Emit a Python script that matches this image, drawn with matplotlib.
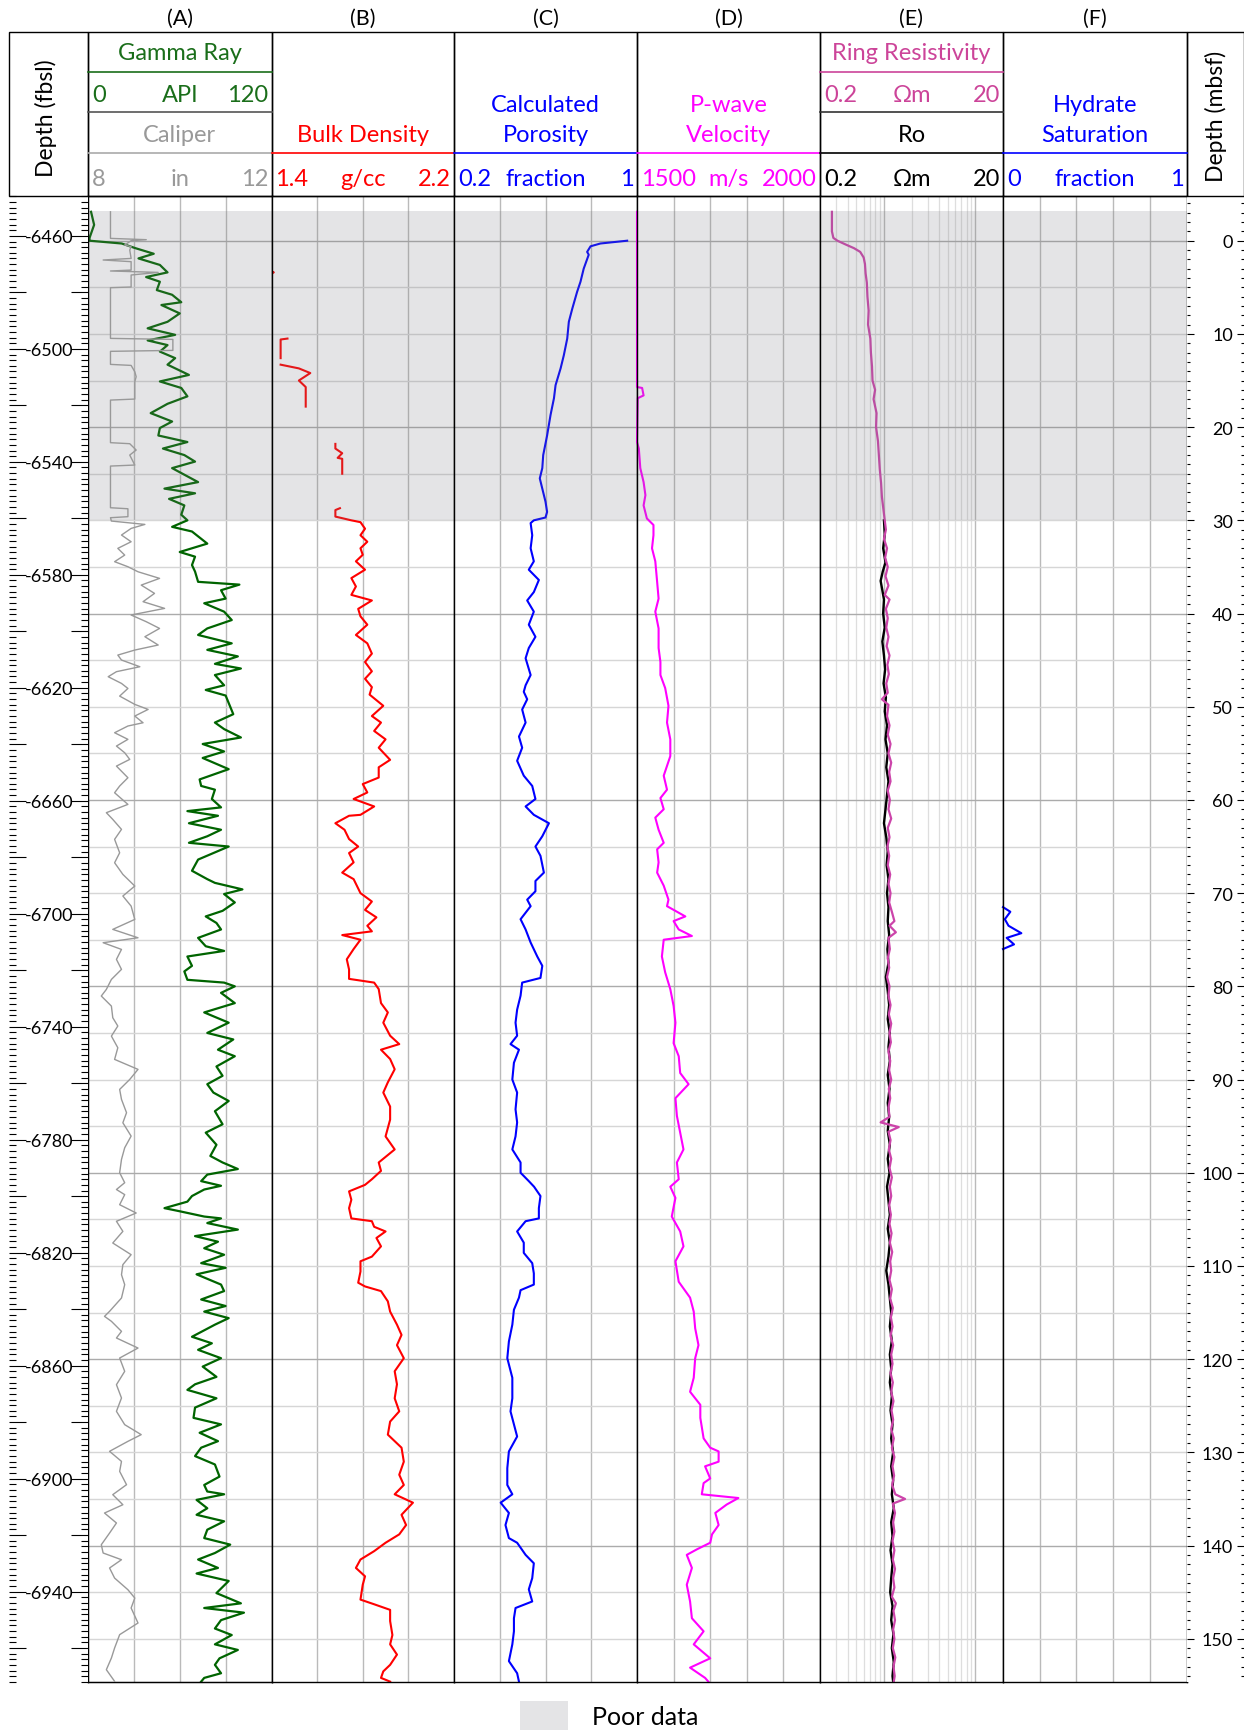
import numpy as np
import matplotlib.pyplot as plt
from matplotlib.patches import Patch, Rectangle
from matplotlib.ticker import MultipleLocator, FuncFormatter, NullLocator

plt.rcParams['font.family'] = ['Lato', 'DejaVu Sans']

# ---- log curves, (depth in m below seafloor, value) ----
gr_log = [(-3.1, 2), (-1.7, 4), (-0.3, 1), (0.0, 1), (0.3, 22), (0.8, 31), (1.4, 43), (1.9, 33), (2.6, 47),
          (3.4, 52), (3.9, 38), (4.4, 47), (5.3, 45), (5.8, 55), (6.6, 61), (6.9, 48), (7.8, 60), (8.7, 52),
          (9.4, 39), (10.1, 57), (10.7, 39), (11.2, 52), (11.9, 47), (12.6, 57), (13.3, 52), (14.4, 66),
          (15.1, 47), (15.8, 61), (16.7, 65), (17.5, 52), (18.5, 41), (19.4, 55), (20.1, 47), (20.9, 46),
          (21.6, 65), (22.3, 49), (23.0, 63), (23.7, 70), (24.4, 55), (25.9, 72), (26.6, 50), (27.1, 70),
          (27.7, 53), (28.4, 63), (29.4, 61), (30.0, 65), (30.7, 55), (31.2, 68), (32.5, 78), (33.4, 60),
          (33.9, 70), (34.8, 68), (35.5, 70), (36.6, 72), (36.9, 99), (37.5, 87), (38.4, 90), (38.9, 76),
          (39.8, 89), (40.7, 94), (41.6, 78), (42.3, 72), (43.2, 94), (43.9, 78), (44.6, 98), (45.4, 83),
          (45.9, 100), (46.6, 83), (47.7, 89), (48.2, 77), (48.8, 90), (49.6, 92), (50.8, 95), (51.7, 83),
          (52.4, 89), (53.3, 100), (54.0, 75), (54.8, 89), (55.5, 75), (56.7, 92), (57.8, 73), (58.5, 74),
          (58.9, 83), (59.9, 81), (60.8, 87), (61.2, 65), (61.7, 85), (62.5, 66), (63.2, 87), (63.9, 78),
          (64.6, 66), (65.0, 92), (65.7, 82), (66.4, 72), (67.6, 68), (68.5, 78), (68.9, 83), (69.6, 101),
          (70.1, 89), (71.0, 96), (71.9, 88), (72.5, 77), (73.2, 84), (73.9, 87), (74.8, 72), (75.7, 77),
          (76.2, 89), (76.8, 65), (77.8, 68), (78.4, 63), (79.3, 65), (79.6, 89), (80.0, 96), (80.7, 87),
          (81.8, 96), (82.8, 76), (83.9, 92), (85.0, 78), (85.7, 95), (86.8, 85), (87.5, 96), (88.6, 84),
          (89.6, 88), (90.5, 78), (91.4, 82), (92.3, 92), (93.4, 83), (94.8, 88), (95.7, 77), (97.0, 84),
          (98.2, 80), (98.9, 88), (99.6, 98), (100.2, 78), (100.9, 74), (101.4, 87), (101.8, 76), (102.5, 68),
          (103.1, 65), (103.8, 50), (104.1, 59), (104.7, 76), (104.9, 87), (105.4, 78), (106.1, 98),
          (106.8, 70), (107.4, 85), (108.1, 76), (108.8, 89), (109.7, 74), (110.2, 90), (110.9, 71),
          (112.0, 87), (112.7, 89), (113.6, 74), (114.3, 90), (114.9, 76), (115.6, 92), (116.3, 83),
          (117.6, 68), (118.3, 81), (119.0, 72), (119.9, 87), (120.8, 75), (121.9, 84), (122.7, 70),
          (123.3, 65), (124.2, 84), (125.2, 70), (126.3, 69), (127.0, 87), (127.9, 73), (128.8, 85),
          (129.5, 74), (130.4, 70), (131.3, 83), (132.6, 86), (133.5, 76), (134.2, 78), (134.5, 89),
          (135.1, 71), (136.0, 78), (136.7, 71), (137.4, 89), (138.3, 78), (139.2, 76), (139.9, 93),
          (140.8, 83), (141.5, 72), (142.4, 85), (143.0, 71), (143.8, 92), (145.1, 84), (146.2, 100),
          (146.7, 76), (147.2, 102), (148.0, 87), (148.9, 83), (149.6, 94), (150.6, 83), (151.2, 98),
          (152.1, 86), (152.8, 83), (153.7, 87), (154.2, 76), (154.6, 74)]

cal_log = [(-3.1, 8.49), (-0.25, 8.49), (-0.11, 9.27), (0.0, 8.94), (0.46, 8.80), (0.64, 8.94), (1.0, 8.91),
           (1.9, 8.94), (2.07, 8.33), (2.25, 8.94), (3.15, 8.94), (3.25, 8.49), (3.4, 9.53), (3.68, 8.94),
           (4.97, 8.94), (5.04, 8.49), (10.48, 8.49), (10.59, 9.85), (11.77, 9.85), (11.87, 8.49),
           (13.27, 8.49), (13.38, 8.94), (14.06, 9.02), (14.59, 9.05), (15.13, 9.02), (16.99, 9.02),
           (17.1, 8.49), (21.67, 8.49), (21.78, 8.91), (22.46, 9.05), (23.0, 8.91), (24.07, 9.02),
           (24.18, 8.49), (28.65, 8.49), (28.76, 8.87), (29.61, 8.87), (29.72, 8.49), (30.08, 8.51),
           (30.44, 9.24), (30.87, 8.94), (31.58, 8.73), (32.3, 8.94), (33.01, 8.65), (33.73, 8.80),
           (34.44, 8.58), (34.98, 8.87), (35.52, 9.09), (36.23, 9.56), (36.95, 9.16), (37.84, 9.45),
           (38.73, 9.20), (39.45, 9.67), (40.16, 8.94), (40.88, 9.27), (41.6, 9.56), (42.49, 9.24),
           (43.38, 9.53), (43.92, 9.02), (44.46, 8.65), (44.99, 8.73), (45.71, 9.13), (46.24, 8.62),
           (46.78, 8.44), (47.5, 8.73), (48.04, 8.87), (48.86, 8.69), (49.75, 9.02), (50.29, 9.31),
           (51.0, 9.02), (51.72, 9.20), (52.07, 8.87), (52.79, 8.58), (53.5, 8.87), (54.22, 8.62),
           (54.94, 8.80), (55.65, 8.91), (56.37, 8.62), (57.62, 8.87), (58.51, 8.69), (59.23, 8.58),
           (60.48, 8.87), (61.37, 8.40), (62.09, 8.54), (63.16, 8.73), (64.23, 8.58), (65.67, 8.69),
           (66.74, 8.58), (67.99, 8.76), (69.24, 9.02), (70.31, 8.76), (71.39, 8.94), (72.82, 9.02),
           (73.89, 8.54), (74.79, 9.09), (75.32, 8.33), (76.04, 8.73), (77.11, 8.62), (78.18, 8.73),
           (79.26, 8.51), (80.33, 8.40), (81.04, 8.29), (82.12, 8.51), (83.37, 8.54), (84.26, 8.65),
           (85.34, 8.51), (86.59, 8.65), (87.84, 8.58), (88.91, 9.09), (89.99, 8.91), (91.06, 8.69),
           (92.13, 8.73), (93.56, 8.84), (94.64, 8.76), (96.07, 8.94), (97.32, 8.80), (98.57, 8.73),
           (100.0, 8.69), (101.07, 8.80), (101.8, 8.62), (102.35, 8.80), (103.43, 8.69), (104.32, 9.05),
           (105.21, 8.62), (106.29, 8.76), (107.54, 8.54), (108.79, 8.94), (109.86, 8.76), (110.94, 8.73),
           (112.01, 8.80), (113.44, 8.73), (114.87, 8.47), (115.41, 8.36), (115.94, 8.51), (117.02, 8.73),
           (117.73, 8.62), (118.81, 9.09), (119.88, 8.69), (121.31, 8.80), (122.74, 8.62), (124.17, 8.73),
           (125.6, 8.62), (127.03, 8.80), (128.1, 9.16), (128.82, 8.87), (129.89, 8.47), (130.97, 8.73),
           (132.04, 8.69), (133.47, 8.84), (134.54, 8.54), (135.62, 8.76), (136.51, 8.36), (137.58, 8.62),
           (138.66, 8.47), (139.91, 8.29), (140.8, 8.33), (141.52, 8.73), (142.41, 8.47), (143.49, 8.58),
           (144.74, 8.87), (145.63, 9.02), (146.7, 8.94), (148.31, 9.09), (149.56, 8.69), (150.99, 8.58),
           (152.07, 8.51), (153.32, 8.40), (154.57, 8.58)]

nan = float('nan')
rhob_log = [(-0.4, 1.401), (3.3, 1.401), (3.4, 1.41), (3.5, 1.401), (5.7, 1.401), (nan, nan),
            (10.5, 1.47), (10.6, 1.44), (12.6, 1.44), (nan, nan),
            (13.3, 1.44), (13.7, 1.52), (14.2, 1.57), (15.0, 1.52), (15.7, 1.55), (17.8, 1.55), (nan, nan),
            (21.8, 1.68), (22.3, 1.68), (22.8, 1.71), (23.3, 1.69), (23.4, 1.71), (25.0, 1.71), (nan, nan),
            (28.7, 1.70), (28.9, 1.68), (29.6, 1.68), (30.0, 1.75), (30.2, 1.79), (30.9, 1.81), (31.6, 1.79),
            (32.3, 1.82), (33.0, 1.79), (33.7, 1.80), (34.4, 1.77), (35.3, 1.81), (36.2, 1.75), (37.1, 1.77),
            (38.0, 1.75), (38.6, 1.84), (39.5, 1.78), (40.3, 1.79), (41.2, 1.82), (42.3, 1.77), (43.2, 1.82),
            (44.3, 1.84), (45.2, 1.81), (46.2, 1.84), (47.0, 1.81), (47.9, 1.84), (48.7, 1.83), (49.9, 1.89),
            (51.0, 1.84), (51.7, 1.88), (52.6, 1.85), (53.5, 1.90), (54.4, 1.87), (55.7, 1.92), (56.5, 1.87),
            (57.6, 1.87), (58.3, 1.80), (59.2, 1.82), (59.9, 1.76), (60.7, 1.85), (61.6, 1.79), (61.7, 1.74),
            (62.5, 1.68), (63.2, 1.72), (64.2, 1.74), (65.0, 1.78), (65.7, 1.74), (66.7, 1.76), (67.8, 1.71),
            (68.5, 1.76), (70.0, 1.79), (70.9, 1.84), (71.8, 1.81), (72.6, 1.86), (73.5, 1.82), (74.1, 1.84),
            (74.5, 1.71), (75.0, 1.79), (76.0, 1.76), (77.1, 1.73), (78.2, 1.74), (79.2, 1.74), (79.6, 1.85),
            (80.3, 1.87), (81.8, 1.88), (82.8, 1.91), (83.9, 1.89), (85.3, 1.92), (86.2, 1.96), (86.8, 1.88),
            (87.8, 1.92), (88.9, 1.94), (90.3, 1.91), (91.4, 1.89), (92.9, 1.92), (94.3, 1.92), (96.1, 1.90),
            (97.5, 1.94), (98.9, 1.87), (99.8, 1.88), (100.7, 1.84), (101.3, 1.81), (102.0, 1.74),
            (102.9, 1.75), (103.8, 1.74), (104.9, 1.75), (105.2, 1.84), (105.8, 1.85), (106.3, 1.90),
            (107.0, 1.86), (107.9, 1.88), (109.0, 1.84), (109.5, 1.79), (110.6, 1.79), (111.8, 1.78),
            (112.2, 1.81), (112.7, 1.88), (113.8, 1.91), (114.9, 1.92), (116.3, 1.95), (117.4, 1.97),
            (118.5, 1.95), (119.9, 1.98), (121.3, 1.94), (122.7, 1.95), (124.2, 1.94), (125.6, 1.96),
            (126.7, 1.92), (128.1, 1.91), (129.5, 1.97), (131.0, 1.98), (132.4, 1.96), (133.5, 1.98),
            (134.5, 1.94), (135.4, 2.02), (136.7, 1.97), (137.8, 1.99), (138.8, 1.96), (139.7, 1.90),
            (140.6, 1.85), (141.5, 1.79), (142.4, 1.77), (143.3, 1.81), (144.2, 1.80), (145.8, 1.79),
            (146.3, 1.85), (146.9, 1.92), (148.1, 1.92), (149.6, 1.93), (150.6, 1.92), (151.7, 1.95),
            (152.8, 1.92), (153.5, 1.89), (154.2, 1.88), (154.6, 1.92)]

phi_log = [(0.0, 0.957), (0.3, 0.84), (0.6, 0.797), (1.2, 0.782), (1.5, 0.789), (3.0, 0.767), (4.4, 0.753),
           (5.5, 0.738), (7.3, 0.717), (8.7, 0.702), (10.5, 0.695), (12.3, 0.68), (13.7, 0.666), (15.5, 0.644),
           (16.9, 0.637), (18.7, 0.622), (20.9, 0.607), (23.0, 0.59), (24.4, 0.586), (25.5, 0.575),
           (26.6, 0.586), (28.0, 0.60), (29.1, 0.607), (29.7, 0.60), (30.0, 0.549), (30.3, 0.535),
           (31.6, 0.542), (33.0, 0.535), (34.4, 0.549), (35.3, 0.527), (36.4, 0.571), (37.7, 0.549),
           (38.6, 0.52), (39.8, 0.549), (41.2, 0.527), (42.5, 0.556), (43.7, 0.527), (44.8, 0.513),
           (46.6, 0.535), (47.7, 0.513), (48.4, 0.505), (49.2, 0.52), (50.3, 0.498), (51.7, 0.513),
           (53.2, 0.484), (54.4, 0.498), (55.8, 0.476), (57.4, 0.505), (58.5, 0.542), (59.9, 0.556),
           (60.7, 0.513), (61.6, 0.549), (62.5, 0.615), (63.9, 0.586), (65.0, 0.556), (66.0, 0.578),
           (67.8, 0.593), (68.7, 0.556), (69.8, 0.556), (70.7, 0.52), (71.4, 0.535), (72.8, 0.491),
           (73.9, 0.513), (75.3, 0.535), (76.8, 0.564), (77.8, 0.586), (79.1, 0.578), (79.6, 0.498),
           (81.0, 0.491), (82.5, 0.476), (83.9, 0.469), (85.3, 0.476), (86.2, 0.447), (86.8, 0.484),
           (88.2, 0.462), (90.0, 0.455), (91.4, 0.476), (93.2, 0.469), (94.6, 0.476), (96.1, 0.469),
           (97.5, 0.455), (98.9, 0.491), (100.0, 0.491), (100.9, 0.527), (101.5, 0.55), (102.5, 0.578),
           (103.8, 0.571), (104.9, 0.571), (105.2, 0.513), (106.3, 0.476), (107.5, 0.505), (108.6, 0.505),
           (109.7, 0.542), (110.8, 0.549), (112.0, 0.549), (112.6, 0.491), (113.4, 0.484), (114.7, 0.462),
           (116.3, 0.455), (118.1, 0.44), (119.9, 0.433), (122.0, 0.455), (124.2, 0.455), (125.6, 0.447),
           (127.0, 0.462), (128.3, 0.476), (129.9, 0.44), (131.7, 0.433), (133.5, 0.433), (134.5, 0.455),
           (135.4, 0.404), (136.5, 0.44), (137.8, 0.425), (139.2, 0.44), (139.7, 0.476), (141.0, 0.513),
           (141.9, 0.549), (143.5, 0.542), (144.7, 0.527), (146.0, 0.542), (146.7, 0.469), (147.8, 0.462),
           (149.2, 0.462), (150.6, 0.455), (152.4, 0.44), (153.7, 0.476), (154.6, 0.484)]

vp_log = [(-3.1, 1500), (15.7, 1500), (15.8, 1514), (16.6, 1518), (16.9, 1502), (21.6, 1500), (22.3, 1505),
          (24.4, 1509), (25.9, 1518), (27.3, 1523), (28.4, 1518), (29.8, 1527), (30.5, 1545), (31.6, 1545),
          (33.0, 1541), (34.4, 1550), (36.6, 1555), (38.4, 1559), (39.8, 1550), (41.6, 1559), (43.7, 1559),
          (45.2, 1564), (46.6, 1564), (48.0, 1577), (49.9, 1586), (51.7, 1582), (53.5, 1591), (55.3, 1591),
          (57.4, 1573), (58.9, 1582), (59.8, 1564), (61.0, 1573), (61.9, 1550), (63.2, 1559), (64.6, 1573),
          (65.3, 1555), (66.7, 1559), (67.8, 1555), (69.2, 1573), (70.7, 1586), (71.4, 1582), (72.5, 1632),
          (73.0, 1600), (73.9, 1614), (74.6, 1650), (75.0, 1573), (76.8, 1568), (78.5, 1577), (80.3, 1591),
          (82.1, 1600), (83.9, 1605), (86.1, 1600), (87.5, 1614), (89.3, 1618), (90.5, 1641), (92.0, 1605),
          (93.9, 1609), (95.7, 1618), (97.5, 1627), (98.9, 1609), (100.7, 1614), (101.5, 1591), (102.7, 1605),
          (104.7, 1595), (106.3, 1618), (107.9, 1627), (109.5, 1605), (111.7, 1614), (113.4, 1645),
          (114.9, 1655), (116.7, 1659), (118.5, 1668), (119.9, 1659), (122.0, 1655), (123.5, 1645),
          (124.9, 1673), (126.3, 1673), (128.5, 1682), (129.5, 1700), (129.9, 1723), (131.0, 1723),
          (131.5, 1686), (132.8, 1700), (133.3, 1682), (134.5, 1677), (134.9, 1777), (135.6, 1745),
          (136.5, 1714), (137.8, 1723), (138.8, 1705), (139.7, 1700), (140.4, 1664), (141.0, 1636),
          (142.4, 1650), (144.2, 1636), (146.0, 1645), (147.8, 1650), (149.2, 1682), (150.6, 1655),
          (152.1, 1700), (153.1, 1645), (154.2, 1686), (154.6, 1695)]

ring_log = [(-3.1, 0.27), (-1.0, 0.27), (-0.3, 0.28), (0.0, 0.31), (0.4, 0.38), (0.8, 0.47), (1.2, 0.55),
            (1.8, 0.60), (2.5, 0.62), (3.5, 0.63), (4.5, 0.65), (6.0, 0.66), (7.5, 0.68), (9.0, 0.67),
            (10.5, 0.71), (12.0, 0.72), (13.5, 0.74), (15.0, 0.75), (16.0, 0.80), (17.0, 0.77), (18.5, 0.83),
            (20.0, 0.82), (21.5, 0.86), (23.0, 0.88), (24.5, 0.90), (26.0, 0.93), (27.5, 0.95), (29.0, 0.99),
            (30.0, 1.02), (31.0, 1.05), (32.0, 1.00), (33.0, 1.08), (34.0, 1.03), (35.0, 1.10), (36.0, 1.04),
            (37.0, 1.12), (38.0, 1.02), (38.5, 1.15), (39.5, 1.05), (40.5, 1.10), (41.5, 1.06), (42.5, 1.12),
            (43.5, 1.07), (44.5, 1.15), (45.5, 1.09), (46.5, 1.13), (47.5, 1.06), (48.5, 1.10), (49.2, 0.95),
            (49.8, 1.12), (51.0, 1.08), (52.0, 1.15), (53.0, 1.10), (54.0, 1.18), (55.0, 1.12), (56.0, 1.20),
            (57.0, 1.14), (58.0, 1.18), (59.0, 1.10), (60.0, 1.16), (61.0, 1.12), (62.0, 1.20), (63.0, 1.10),
            (64.0, 1.15), (65.0, 1.09), (66.0, 1.14), (67.0, 1.10), (68.0, 1.17), (69.0, 1.12), (70.0, 1.18),
            (71.0, 1.14), (72.0, 1.22), (73.0, 1.30), (73.5, 1.15), (74.2, 1.35), (74.8, 1.12), (76.0, 1.16),
            (77.0, 1.10), (78.0, 1.14), (79.0, 1.08), (80.0, 1.15), (81.0, 1.12), (82.0, 1.18), (83.0, 1.13),
            (84.0, 1.20), (85.0, 1.15), (86.0, 1.19), (87.0, 1.12), (88.0, 1.17), (89.0, 1.14), (90.0, 1.20),
            (91.0, 1.13), (92.0, 1.17), (93.0, 1.12), (94.0, 1.15), (94.6, 0.92), (95.1, 1.45), (95.6, 1.12),
            (96.5, 1.18), (97.5, 1.13), (98.5, 1.20), (99.5, 1.15), (100.5, 1.22), (101.5, 1.16), (102.5, 1.20),
            (103.5, 1.14), (104.5, 1.19), (105.5, 1.15), (106.5, 1.21), (107.5, 1.16), (108.5, 1.23),
            (109.5, 1.17), (110.5, 1.20), (111.5, 1.15), (112.5, 1.22), (113.5, 1.17), (114.5, 1.25),
            (115.5, 1.19), (116.5, 1.24), (117.5, 1.18), (118.5, 1.26), (119.5, 1.20), (120.5, 1.24),
            (121.5, 1.18), (122.5, 1.25), (123.5, 1.20), (124.5, 1.27), (125.5, 1.21), (126.5, 1.26),
            (127.5, 1.20), (128.5, 1.28), (129.5, 1.22), (130.5, 1.30), (131.5, 1.24), (132.5, 1.29),
            (133.5, 1.23), (134.5, 1.33), (135.0, 1.70), (135.5, 1.25), (136.5, 1.32), (137.5, 1.26),
            (138.5, 1.30), (139.5, 1.24), (140.5, 1.30), (141.5, 1.25), (142.5, 1.32), (143.5, 1.26),
            (144.5, 1.30), (145.5, 1.22), (146.2, 1.35), (147.0, 1.27), (148.0, 1.32), (149.0, 1.26),
            (150.0, 1.30), (151.0, 1.25), (152.0, 1.33), (153.0, 1.27), (154.0, 1.31), (154.6, 1.28)]

ro_log = [(30.0, 1.00), (31.5, 1.02), (33.0, 0.98), (34.5, 1.04), (35.5, 0.97), (36.5, 0.92), (37.5, 0.96),
          (38.5, 1.00), (40.0, 0.98), (41.5, 1.02), (43.0, 0.96), (44.5, 1.00), (46.0, 1.03), (47.5, 0.99),
          (49.0, 1.05), (50.5, 1.02), (52.0, 1.08), (53.5, 1.04), (55.0, 1.10), (56.5, 1.06), (58.0, 1.12),
          (59.5, 1.08), (61.0, 1.04), (62.5, 1.00), (64.0, 1.06), (65.5, 1.10), (67.0, 1.07), (68.5, 1.12),
          (70.0, 1.08), (71.5, 1.12), (73.0, 1.10), (74.5, 1.14), (76.0, 1.09), (77.5, 1.12), (79.0, 1.05),
          (80.5, 1.10), (82.0, 1.14), (83.5, 1.10), (85.0, 1.16), (86.5, 1.12), (88.0, 1.16), (89.5, 1.10),
          (91.0, 1.15), (92.5, 1.10), (94.0, 1.14), (95.5, 1.10), (97.0, 1.16), (98.5, 1.10), (100.0, 1.15),
          (101.5, 1.08), (103.0, 1.12), (104.5, 1.16), (106.0, 1.10), (107.5, 1.16), (109.0, 1.12),
          (110.5, 1.06), (112.0, 1.12), (113.5, 1.16), (115.0, 1.20), (116.5, 1.16), (118.0, 1.22),
          (119.5, 1.16), (121.0, 1.20), (122.5, 1.16), (124.0, 1.22), (125.5, 1.18), (127.0, 1.24),
          (128.5, 1.20), (130.0, 1.26), (131.5, 1.20), (133.0, 1.26), (134.5, 1.22), (136.0, 1.28),
          (137.5, 1.20), (139.0, 1.24), (140.5, 1.18), (142.0, 1.24), (143.5, 1.20), (145.0, 1.17),
          (146.5, 1.24), (148.0, 1.20), (149.5, 1.27), (151.0, 1.22), (152.5, 1.28), (154.0, 1.24), (154.6, 1.26)]

sh_log = [(71.5, 0.0), (72.0, 0.04), (72.8, 0.01), (73.5, 0.03), (74.3, 0.10), (74.8, 0.02),
          (75.5, 0.06), (76.0, 0.0)]

poor_data = (-3.2, 30.0)          # m below seafloor
seafloor_ft, ft_per_m = 6461.7, 3.30

gr_depth, gr_api = np.array(gr_log).T
cal_depth, cal_in = np.array(cal_log).T
rhob_depth, rhob = np.array(rhob_log).T
phi_depth, phi = np.array(phi_log).T
vp_depth, vp = np.array(vp_log).T
ring_depth, ring = np.array(ring_log).T
ro_depth, ro = np.array(ro_log).T
sh_depth, sh = np.array(sh_log).T

# ---- layout in pixels ----
W, H = 1244, 1731
TOP, BOT, HTOP = 196.5, 1683, 33
edges = [88, 271.5, 454, 637, 820, 1003, 1186.5]
ylim = (154.64, -4.85)
FS = 17
ROW = [60.5, 102.5, 142.5, 186]   # text baselines of header rows

fig = plt.figure(figsize=(W / 100, H / 100), dpi=100)


def frac(x0, y0, x1, y1):
    return [x0 / W, 1 - y1 / H, (x1 - x0) / W, (y1 - y0) / H]


def make_track(i, xlim, xgrid, log=False, minor_grid=()):
    ax = fig.add_axes(frac(edges[i], TOP, edges[i + 1], BOT))
    if log:
        ax.set_xscale('log')
    ax.set_xlim(*xlim)
    ax.set_ylim(*ylim)
    ax.set_xticks([])
    ax.set_yticks([])
    ax.xaxis.set_minor_locator(NullLocator())
    ax.yaxis.set_minor_locator(NullLocator())
    for xv in minor_grid:
        ax.axvline(xv, color='#dedede', lw=0.9, zorder=1)
    for xv in xgrid:
        ax.axvline(xv, color='#bababa', lw=1.0, zorder=1)
    for m in range(0, 151, 5):
        ax.axhline(m, color='#ababab' if m % 20 == 0 else '#d6d6d6', lw=1.0, zorder=1)
    ax.axhspan(*poor_data, color='#7a7a82', alpha=0.2, lw=0, zorder=6)
    for s in ax.spines.values():
        s.set_linewidth(1.0)
        s.set_zorder(7)
    return ax


# track A: gamma ray + caliper
axA = make_track(0, (0, 120), [30, 60, 90])
axA.plot(gr_api, gr_depth, color='#006400', lw=1.6, zorder=3)
axA2 = axA.twiny()
axA2.set_xlim(8, 12)
axA2.set_xticks([])
axA2.plot(cal_in, cal_depth, color='#999999', lw=1.0, zorder=3)

# track B: bulk density
axB = make_track(1, (1.4, 2.2), [1.6, 1.8, 2.0])
axB.plot(rhob, rhob_depth, color='#ff0000', lw=1.5, zorder=3)

# track C: porosity
axC = make_track(2, (0.2, 1.0), [0.4, 0.6, 0.8])
axC.plot(phi, phi_depth, color='#0000ff', lw=1.5, zorder=3)

# track D: p-wave velocity
axD = make_track(3, (1500, 2000), [1600, 1700, 1800, 1900])
axD.plot(vp, vp_depth, color='#ff00ff', lw=1.5, zorder=3, clip_on=False)

# track E: resistivity (log)
minors = [k * d for d in (0.1, 1) for k in range(2, 10) if 0.2 < k * d < 20]
axE = make_track(4, (0.2, 20), [1, 10], log=True, minor_grid=minors)
axE.plot(ro, ro_depth, color='black', lw=1.7, zorder=3)
axE.plot(ring, ring_depth, color='#cc44aa', lw=1.6, zorder=4)

# track F: hydrate saturation
axF = make_track(5, (0, 1), [0.2, 0.4, 0.6, 0.8])
axF.plot(sh, sh_depth, color='#0000ff', lw=1.5, zorder=3, clip_on=False)

# depth columns
axL = fig.add_axes(frac(9, TOP, 88, BOT))
axL.set_ylim(seafloor_ft + ft_per_m * ylim[0], seafloor_ft + ft_per_m * ylim[1])
axL.set_xticks([])
axL.yaxis.set_major_locator(MultipleLocator(20))
axL.yaxis.set_minor_locator(MultipleLocator(2))
axL.yaxis.set_major_formatter(FuncFormatter(lambda v, p: '-%d' % v if round(v) % 40 == 20 else ''))
axL.tick_params(axis='y', which='both', direction='in', left=True, right=True, labelsize=13, width=0.8)
axL.tick_params(axis='y', which='major', length=12, pad=-46.5)
axL.tick_params(axis='y', which='minor', length=5)
for s in axL.spines.values():
    s.set_visible(False)

axR = fig.add_axes(frac(1186.5, TOP, 1244, BOT))
axR.set_ylim(*ylim)
axR.set_xticks([])
axR.yaxis.set_major_locator(MultipleLocator(10))
axR.yaxis.set_minor_locator(MultipleLocator(1))
axR.tick_params(axis='y', which='both', direction='in', left=True, right=True, labelsize=13, width=0.8)
axR.tick_params(axis='y', which='major', length=5, pad=-33.5)
axR.tick_params(axis='y', which='minor', length=2.4)
for s in axR.spines.values():
    s.set_visible(False)

# header
ov = fig.add_axes([0, 0, 1, 1], zorder=10)
ov.set_xlim(0, W)
ov.set_ylim(H, 0)
ov.axis('off')

cols = [9] + edges + [1243.5]
for x0, x1 in zip(cols[:-1], cols[1:]):
    ov.add_patch(Rectangle((x0, HTOP), x1 - x0, TOP - HTOP, fill=False, ec='black', lw=1.0))

ov.text(46, 118, 'Depth (fbsl)', rotation=90, ha='center', va='center', fontsize=16.5)
ov.text(1216, 116, 'Depth (mbsf)', rotation=90, ha='center', va='center', fontsize=16.5)

letters = ['(A)', '(B)', '(C)', '(D)', '(E)', '(F)']
for i, lab in enumerate(letters):
    ov.text((edges[i] + edges[i + 1]) / 2, 19, lab, ha='center', va='center', fontsize=15.5)


def hline(i, y, color):
    ov.plot([edges[i], edges[i + 1]], [y, y], color=color, lw=1.2)


def scale_row(i, y, lo, unit, hi, color):
    ov.text(edges[i] + 4, y, lo, ha='left', va='baseline', fontsize=FS, color=color)
    ov.text((edges[i] + edges[i + 1]) / 2, y, unit, ha='center', va='baseline', fontsize=FS, color=color)
    ov.text(edges[i + 1] - 3, y, hi, ha='right', va='baseline', fontsize=FS, color=color)


def title(i, y, txt, color):
    ov.text((edges[i] + edges[i + 1]) / 2, y, txt, ha='center', va='baseline', fontsize=FS, color=color)


def title2(i, first, second, color):
    title(i, 111.5, first, color)
    title(i, ROW[2], second, color)


# (A)
title(0, ROW[0], 'Gamma Ray', '#1a6e1a')
hline(0, 73, '#1a6e1a')
scale_row(0, ROW[1], '0', 'API', '120', '#1a6e1a')
hline(0, 113, '#555555')
title(0, ROW[2], 'Caliper', '#999999')
hline(0, 154, '#aaaaaa')
scale_row(0, ROW[3], '8', 'in', '12', '#999999')
# (B)
title(1, ROW[2], 'Bulk Density', '#ff0000')
hline(1, 154, '#ff0000')
scale_row(1, ROW[3], '1.4', 'g/cc', '2.2', '#ff0000')
# (C)
title2(2, 'Calculated', 'Porosity', '#0000ff')
hline(2, 154, '#0000ff')
scale_row(2, ROW[3], '0.2', 'fraction', '1', '#0000ff')
# (D)
title2(3, 'P-wave', 'Velocity', '#ff00ff')
hline(3, 154, '#ff00ff')
scale_row(3, ROW[3], '1500', 'm/s', '2000', '#ff00ff')
# (E)
title(4, ROW[0], 'Ring Resistivity', '#cc4499')
hline(4, 73, '#cc4499')
scale_row(4, ROW[1], '0.2', '\u03a9m', '20', '#cc4499')
hline(4, 113, '#333333')
title(4, ROW[2], 'Ro', 'black')
hline(4, 154, 'black')
scale_row(4, ROW[3], '0.2', '\u03a9m', '20', 'black')
# (F)
title2(5, 'Hydrate', 'Saturation', '#0000ff')
hline(5, 154, '#0000ff')
scale_row(5, ROW[3], '0', 'fraction', '1', '#0000ff')

fig.legend(handles=[Patch(facecolor='#e4e4e6', edgecolor='none', label='Poor data')],
           loc='lower left', bbox_to_anchor=(520 / W, 0), frameon=False, fontsize=18,
           handlelength=1.9, handleheight=1.4, handletextpad=1.0, borderpad=0, borderaxespad=0)

fig.savefig('out.png', dpi=100)
